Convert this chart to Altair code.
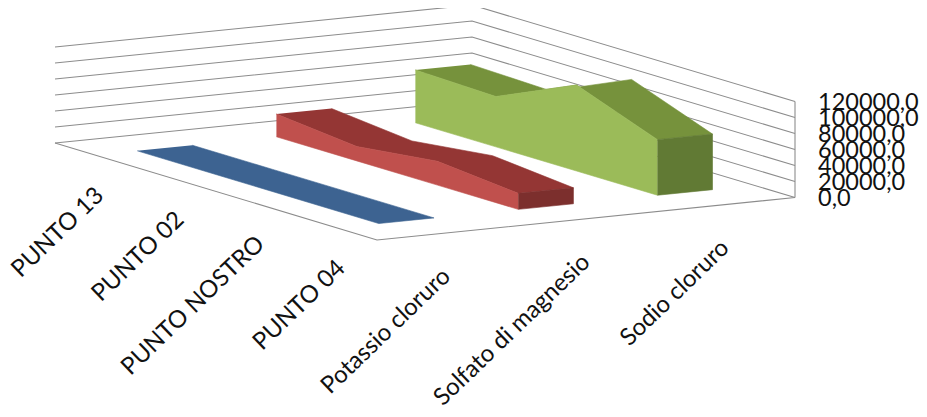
import altair as alt
import numpy as np

categories = ["PUNTO 13", "PUNTO 02", "PUNTO NOSTRO", "PUNTO 04"]
series_names = ["Potassio cloruro", "Solfato di magnesio", "Sodio cloruro"]
series_values = {
    "Potassio cloruro": [0, 0, 0, 0],
    "Solfato di magnesio": [28400, 18000, 29800, 20000],
    "Sodio cloruro": [66000, 63000, 107500, 69500],
}
tick_values = [0, 20000, 40000, 60000, 80000, 100000, 120000]
tick_labels = ["0,0", "20000,0", "40000,0", "60000,0", "80000,0", "100000,0", "120000,0"]
palette = [
    ("#3d6391", "#3d6391", "#3d6391"),
    ("#c0504d", "#943634", "#7c2f2d"),
    ("#9bbb59", "#76923c", "#617a34"),
]

# view of the 3D box: floor corners on the canvas and height per value unit
FLOOR = [(55, 143), (377, 240), (795, 197.5), (472, 101)]
PX_PER_UNIT = 16 / 20000
FONT = "Lato"
W, H = 911, 400


def make_h(c):
    (x0, y0), (x1, y1), (x2, y2), (x3, y3) = c
    A = np.array([
        [x1 - x2, x3 - x2],
        [y1 - y2, y3 - y2],
    ], float)
    b = np.array([x0 - x1 + x2 - x3, y0 - y1 + y2 - y3], float)
    g, h = np.linalg.solve(A, b)
    return np.array([
        [x1 - x0 + g * x1, x3 - x0 + h * x3, x0],
        [y1 - y0 + g * y1, y3 - y0 + h * y3, y0],
        [g, h, 1.0],
    ])


HM = make_h(FLOOR)


def proj(u, v, val=0.0):
    p = HM @ np.array([u, v, 1.0])
    return float(p[0] / p[2]), float(p[1] / p[2] - val * PX_PER_UNIT)


def table(points):
    return [{"px": p[0], "py": p[1], "i": i} for i, p in enumerate(points)]


xs = alt.X("px:Q", scale=alt.Scale(domain=[8, 8 + W], nice=False, zero=False), axis=None)
ys = alt.Y("py:Q", scale=alt.Scale(domain=[8 + H, 8], nice=False, zero=False), axis=None)


def poly(points, color):
    return alt.Chart(alt.Data(values=table(points))).mark_line(
        fill=color, stroke=color, strokeWidth=0.6, strokeJoin="round",
        opacity=1, fillOpacity=1, strokeOpacity=1
    ).encode(x=xs, y=ys, order="i:Q")


def seg(points, color="#8c8c8c", sw=1.1):
    return alt.Chart(alt.Data(values=table(points))).mark_line(
        stroke=color, strokeWidth=sw
    ).encode(x=xs, y=ys, order="i:Q")


layers = []
n_cat, n_ser = len(categories), len(series_names)

# gridlines on the two back walls
for t in tick_values:
    layers.append(seg([proj(0, 0, t), proj(0, 1, t), proj(1, 1, t)]))
# floor edges and the right-hand vertical
layers.append(seg([proj(0, 0), proj(1, 0), proj(1, 1)]))
layers.append(seg([proj(1, 1, 0), proj(1, 1, tick_values[-1])]))

# ribbons
HALF = 0.066
us = [(i + 0.5) / n_cat for i in range(n_cat)]
for s, name in enumerate(series_names):
    vals = series_values[name]
    vc = (s + 0.5) / n_ser
    v0, v1 = vc - HALF, vc + HALF
    side, top, cap = palette[s]
    layers.append(poly([proj(u, v0, x) for u, x in zip(us, vals)]
                       + [proj(u, v1, x) for u, x in zip(reversed(us), reversed(vals))], top))
    if max(vals) > 0:
        layers.append(poly([proj(u, v0, x) for u, x in zip(us, vals)]
                           + [proj(u, v0, 0) for u in reversed(us)], side))
        layers.append(poly([proj(us[-1], v0, vals[-1]), proj(us[-1], v1, vals[-1]),
                            proj(us[-1], v1, 0), proj(us[-1], v0, 0)], cap))

# value-axis labels
tick_rows = []
for t, lab in zip(tick_values, tick_labels):
    px, py = proj(1, 1, t)
    tick_rows.append({"px": px + 23, "py": py + 1, "label": lab})
layers.append(alt.Chart(alt.Data(values=tick_rows)).mark_text(
    align="left", baseline="middle", font=FONT, fontSize=23.5, color="#111111"
).encode(x=xs, y=ys, text="label:N"))

# category labels along the front-left floor edge
cat_rows = []
for u, lab in zip(us, categories):
    px, py = proj(u, 0)
    cat_rows.append({"px": px + 5, "py": py + 37, "label": lab})
for s, lab in enumerate(series_names):
    px, py = proj(1, (s + 0.5) / n_ser)
    cat_rows.append({"px": px + 0, "py": py + 40, "label": lab})
layers.append(alt.Chart(alt.Data(values=cat_rows)).mark_text(
    align="right", baseline="middle", font=FONT, fontSize=24, angle=316, color="#111111"
).encode(x=xs, y=ys, text="label:N"))

chart = alt.layer(*layers).properties(
    width=W, height=H, padding=0, autosize=alt.AutoSizeParams(type="none"),
    background="white",
).configure_view(stroke=None)

chart.save("out.html", embed_options={"renderer": "svg", "actions": False})
